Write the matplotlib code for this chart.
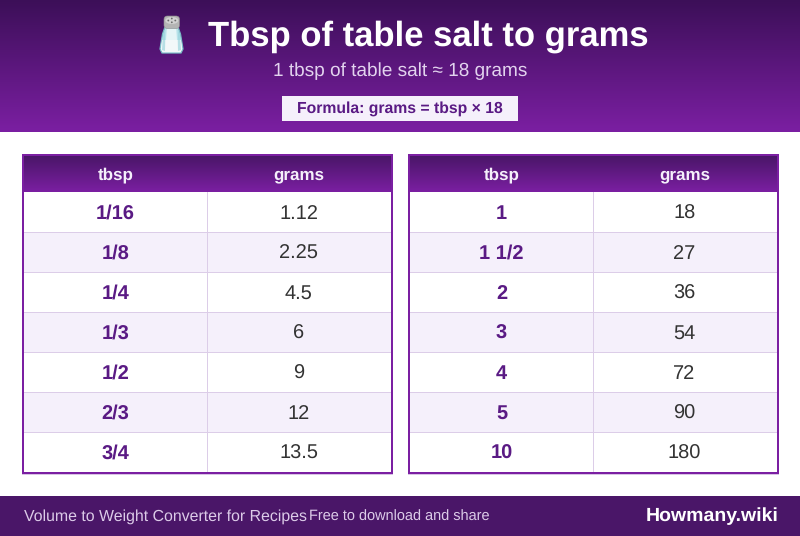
import numpy as np
import matplotlib
matplotlib.use("Agg")
import matplotlib.pyplot as plt
from matplotlib.colors import LinearSegmentedColormap
from matplotlib.patches import Rectangle, Polygon, Ellipse, Circle, FancyBboxPatch

plt.rcParams['font.family'] = ['Liberation Sans', 'DejaVu Sans']
plt.rcParams['text.hinting'] = 'none'
plt.rcParams['text.hinting_factor'] = 8

title = "Tbsp of table salt to grams"
subtitle = "1 tbsp of table salt ≈ 18 grams"
formula = "Formula: grams = tbsp × 18"
col_labels = ["tbsp", "grams"]
left_tbsp = ["1/16", "1/8", "1/4", "1/3", "1/2", "2/3", "3/4"]
left_grams = ["1.12", "2.25", "4.5", "6", "9", "12", "13.5"]
right_tbsp = ["1", "1 1/2", "2", "3", "4", "5", "10"]
right_grams = ["18", "27", "36", "54", "72", "90", "180"]
footer_left = "Volume to Weight Converter for Recipes"
footer_mid = "Free to download and share"
footer_right = "Howmany.wiki"

PURPLE = "#7B1FA2"
DARK = "#4A1668"
DEEP = "#3C0F58"
INK = "#5A1A84"
LINE = "#DCCDE8"
ALT = "#F5F0FB"

fig = plt.figure(figsize=(8, 5.36), dpi=100, facecolor="white")
ax = fig.add_axes([0, 0, 1, 1])
ax.set_xlim(0, 800)
ax.set_ylim(536, 0)
ax.axis("off")


def vgrad(x0, x1, y0, y1, c0, c1, z=1):
    cmap = LinearSegmentedColormap.from_list("g", [c0, c1])
    g = np.linspace(0, 1, 256).reshape(-1, 1)
    ax.imshow(g, extent=(x0, x1, y1, y0), cmap=cmap, aspect="auto", zorder=z,
              interpolation="bilinear")


def box(x, y, w, h, color, z):
    ax.add_patch(Rectangle((x, y), w, h, fc=color, ec="none", lw=0, zorder=z,
                           antialiased=False))


# banner
vgrad(0, 800, 0, 132, DEEP, PURPLE)
ax.text(428, 46, title, color="white", fontsize=24.95, fontweight="bold",
        ha="center", va="baseline", zorder=3)
ax.text(400, 76, subtitle, color="#E2D3EE", fontsize=13.68, ha="center", va="baseline", zorder=3)
box(282, 96, 236, 25, ALT, 2)
ax.text(400, 113, formula, color=INK, fontsize=11.35, fontweight="bold",
        ha="center", va="baseline", zorder=3)

# salt shaker icon
ax.add_patch(Polygon([(165, 27), (178, 27), (180.5, 34), (183, 49), (181, 53),
                      (162, 53), (160, 49), (162.5, 34)], closed=True,
                     fc="#C4E9EF", ec="#78BAC5", lw=0.9, zorder=3))
ax.add_patch(Polygon([(162, 40), (181, 40), (182.3, 49), (180.5, 52.3), (162.5, 52.3), (160.8, 49)],
                     closed=True, fc="#F3F8F9", ec="none", zorder=4))
ax.add_patch(Polygon([(167, 29), (176, 29), (177, 40), (166, 40)], closed=True,
                     fc="#E6F5F7", ec="none", zorder=4))
ax.add_patch(Polygon([(163, 34), (165.5, 29), (165, 51), (162, 50)], closed=True,
                     fc="#8FCFD9", ec="none", alpha=0.6, zorder=5))
ax.add_patch(Polygon([(180, 34), (177.5, 29), (178, 51), (181, 50)], closed=True,
                     fc="#8FCFD9", ec="none", alpha=0.6, zorder=5))
ax.add_patch(FancyBboxPatch((166, 18), 11.5, 8.5, boxstyle="round,pad=2,rounding_size=3.5",
                            fc="#B4B4B4", ec="#8F8F8F", lw=0.4, zorder=6))
ax.add_patch(Ellipse((171.8, 20.5), 13, 7, fc="#D2D2D2", ec="none", zorder=7))
for dx, dy in [(-3.5, 0), (0, -2), (3.5, 0), (0, 1.8)]:
    ax.add_patch(Circle((171.8 + dx, 20.5 + dy), 0.9, fc="#6A6A6A", ec="none", zorder=8))


def table(x0, tbsp, grams):
    width, col_w, top, head_h, row_h = 371, 184, 154, 38, 40
    body_top = top + head_h
    bottom = body_top + row_h * len(tbsp)
    centers = (x0 + 93.5, x0 + 276.5)
    box(x0, top, width, bottom + 2 - top, "white", 1)
    vgrad(x0, x0 + width, top + 2, body_top, DARK, PURPLE, z=2)
    for cx, lab in zip(centers, col_labels):
        ax.text(cx, top + 25, lab, color="#F5F0FB", fontsize=12.24,
                fontweight="bold", ha="center", va="baseline", zorder=4)
    for i, (a, b) in enumerate(zip(tbsp, grams)):
        y = body_top + i * row_h
        if i % 2:
            box(x0, y, width, row_h, ALT, 2)
        if i:
            box(x0, y, width, 1, LINE, 3)
        ax.text(centers[0], y + 27, a, color=INK, fontsize=14.4, fontweight="bold",
                ha="center", va="baseline", zorder=4)
        ax.text(centers[1], y + 27, b, color="#333333", fontsize=14.4,
                ha="center", va="baseline", zorder=4)
    box(x0 + col_w + 1, body_top, 1, bottom - body_top, LINE, 3)
    # outer border
    box(x0, top, width, 2, PURPLE, 5)
    box(x0, bottom, width, 2, PURPLE, 5)
    box(x0, bottom + 2, width, 1, "#D8C4E5", 5)
    box(x0, top, 2, bottom + 2 - top, PURPLE, 5)
    box(x0 + width - 2, top, 2, bottom + 2 - top, PURPLE, 5)


table(22, left_tbsp, left_grams)
table(408, right_tbsp, right_grams)

# footer
box(0, 496, 800, 40, DARK, 1)
ax.text(24, 521, footer_left, color="#DCCBE8", fontsize=11.4, ha="left", va="baseline", zorder=3)
ax.text(309, 521, footer_mid, color="#DCCBE8", fontsize=10.45, ha="left", va="baseline", zorder=3)
ax.text(778.5, 521, footer_right, color="white", fontsize=14, fontweight="bold",
        ha="right", va="baseline", zorder=3)

ax.set_xlim(0, 800)
ax.set_ylim(536, 0)
fig.savefig("out.png", dpi=100, facecolor="white")
